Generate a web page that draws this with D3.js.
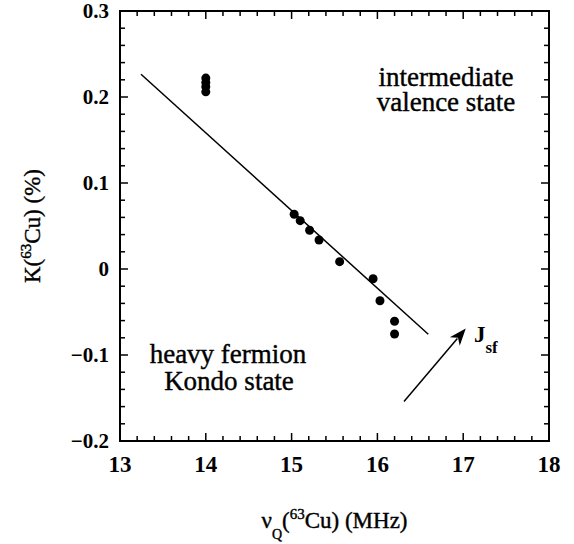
<!DOCTYPE html>
<html>
<head>
<meta charset="utf-8">
<script src="https://cdn.jsdelivr.net/npm/d3@7/dist/d3.min.js"></script>
<style>
  body { margin: 0; background: #fff; }
  svg { display: block; }
  text { font-family: "Liberation Serif", "Times New Roman", serif; fill: #000; }
  .heavy { stroke: #000; stroke-width: 0.4px; }
</style>
</head>
<body>
<svg width="574" height="544"></svg>
<script>
// data
var nuQ = [14.0, 14.0, 14.0, 14.0, 15.03, 15.10, 15.21, 15.32, 15.56, 15.95, 16.03, 16.20, 16.20];
var knight = [0.222, 0.217, 0.212, 0.206, 0.0636, 0.0562, 0.045, 0.0337, 0.0085, -0.0113, -0.0369, -0.0608, -0.0756];
var fitX = [13.245, 16.593];
var fitY = [0.2264, -0.0759];
var arrowX = [16.31, 17.03];
var arrowY = [-0.154, -0.0693];
var xTicks = [13, 14, 15, 16, 17, 18];
var yTicks = [-0.2, -0.1, 0, 0.1, 0.2, 0.3];

var svg = d3.select('svg');
var pLeft = 120, pRight = 549, pTop = 11, pBottom = 441;

var x = d3.scaleLinear().domain([13, 18]).range([pLeft, pRight]);
var y = d3.scaleLinear().domain([-0.2, 0.3]).range([pBottom, pTop]);

var xMinor = d3.range(13, 18.001, 0.2);
var yMinor = d3.range(-0.2, 0.3001, 0.02);

// frame
svg.append("rect")
    .attr("x", pLeft).attr("y", pTop)
    .attr("width", pRight - pLeft).attr("height", pBottom - pTop)
    .attr("fill", "none").attr("stroke", "#000").attr("stroke-width", 2);

// inward ticks on all four sides
function isMajor(v, step) { return Math.abs(v / step - Math.round(v / step)) < 1e-6; }

xMinor.forEach(function(v) {
    var len = isMajor(v, 1) ? 8 : 5;
    svg.append("line").attr("x1", x(v)).attr("x2", x(v)).attr("y1", pBottom).attr("y2", pBottom - len)
        .attr("stroke", "#000").attr("stroke-width", 1.5);
    svg.append("line").attr("x1", x(v)).attr("x2", x(v)).attr("y1", pTop).attr("y2", pTop + len)
        .attr("stroke", "#000").attr("stroke-width", 1.5);
});
yMinor.forEach(function(v) {
    var len = isMajor(v, 0.1) ? 8 : 5;
    svg.append("line").attr("y1", y(v)).attr("y2", y(v)).attr("x1", pLeft).attr("x2", pLeft + len)
        .attr("stroke", "#000").attr("stroke-width", 1.5);
    svg.append("line").attr("y1", y(v)).attr("y2", y(v)).attr("x1", pRight).attr("x2", pRight - len)
        .attr("stroke", "#000").attr("stroke-width", 1.5);
});

// tick labels
svg.selectAll(".xl").data(xTicks).enter().append("text")
    .attr("x", function(d) { return x(d); })
    .attr("y", pBottom + 31)
    .attr("text-anchor", "middle")
    .attr("font-size", "23px").attr("font-weight", "bold")
    .text(function(d) { return d; });

svg.selectAll(".yl").data(yTicks).enter().append("text")
    .attr("x", pLeft - 11)
    .attr("y", function(d) { return y(d) + 7; })
    .attr("text-anchor", "end")
    .attr("font-size", "21px").attr("font-weight", "bold")
    .text(function(d) { return d === 0 ? "0" : d3.format(".1f")(d); });

// axis titles
var xt = svg.append("text").attr("class", "heavy")
    .attr("x", (pLeft + pRight) / 2).attr("y", 528)
    .attr("text-anchor", "middle").attr("font-size", "23px");
xt.append("tspan").text("\u03BD");
xt.append("tspan").attr("font-size", "14px").attr("dy", 11).text("Q");
xt.append("tspan").attr("dy", -11).text("(");
xt.append("tspan").attr("font-size", "15px").attr("dy", -9).text("63");
xt.append("tspan").attr("dy", 9).text("Cu) (MHz)");

var yt = svg.append("text").attr("class", "heavy")
    .attr("transform", "translate(40," + (pTop + pBottom) / 2 + ") rotate(-90)")
    .attr("text-anchor", "middle").attr("font-size", "23px");
yt.append("tspan").text("K(");
yt.append("tspan").attr("font-size", "15px").attr("dy", -9).text("63");
yt.append("tspan").attr("dy", 9).text("Cu) (%)");

// fit line
svg.append("line")
    .attr("x1", x(fitX[0])).attr("y1", y(fitY[0]))
    .attr("x2", x(fitX[1])).attr("y2", y(fitY[1]))
    .attr("stroke", "#000").attr("stroke-width", 1.5);

// data points
svg.selectAll(".pt").data(nuQ).enter().append("circle")
    .attr("cx", function(d) { return x(d); })
    .attr("cy", function(d, i) { return y(knight[i]); })
    .attr("r", 4.5)
    .attr("fill", "#000");

// arrow with a filled head
var ax0 = x(arrowX[0]), ay0 = y(arrowY[0]), ax1 = x(arrowX[1]), ay1 = y(arrowY[1]);
var ang = Math.atan2(ay1 - ay0, ax1 - ax0);
var hl = 17, hw = 6.5;
var bx = ax1 - hl * Math.cos(ang), by = ay1 - hl * Math.sin(ang);
svg.append("line")
    .attr("x1", ax0).attr("y1", ay0)
    .attr("x2", bx + 4 * Math.cos(ang)).attr("y2", by + 4 * Math.sin(ang))
    .attr("stroke", "#000").attr("stroke-width", 1.5);
svg.append("path")
    .attr("d", "M" + ax1 + "," + ay1 +
        "L" + (bx - hw * Math.sin(ang)) + "," + (by + hw * Math.cos(ang)) +
        "L" + (bx + 5 * Math.cos(ang)) + "," + (by + 5 * Math.sin(ang)) +
        "L" + (bx + hw * Math.sin(ang)) + "," + (by - hw * Math.cos(ang)) + "Z")
    .attr("fill", "#000");

var js = svg.append("text").attr("x", 474).attr("y", 342)
    .attr("font-size", "23px").attr("font-weight", "bold");
js.append("tspan").text("J");
js.append("tspan").attr("font-size", "17px").attr("dy", 11).text("sf");

// region labels
svg.append("text").attr("class", "heavy").attr("x", 446).attr("y", 86).attr("text-anchor", "middle")
    .attr("font-size", "27px").text("intermediate");
svg.append("text").attr("class", "heavy").attr("x", 446).attr("y", 111).attr("text-anchor", "middle")
    .attr("font-size", "27px").text("valence state");
svg.append("text").attr("class", "heavy").attr("x", 228).attr("y", 363).attr("text-anchor", "middle")
    .attr("font-size", "27px").text("heavy fermion");
svg.append("text").attr("class", "heavy").attr("x", 229).attr("y", 390).attr("text-anchor", "middle")
    .attr("font-size", "27px").text("Kondo state");
</script>
</body>
</html>
